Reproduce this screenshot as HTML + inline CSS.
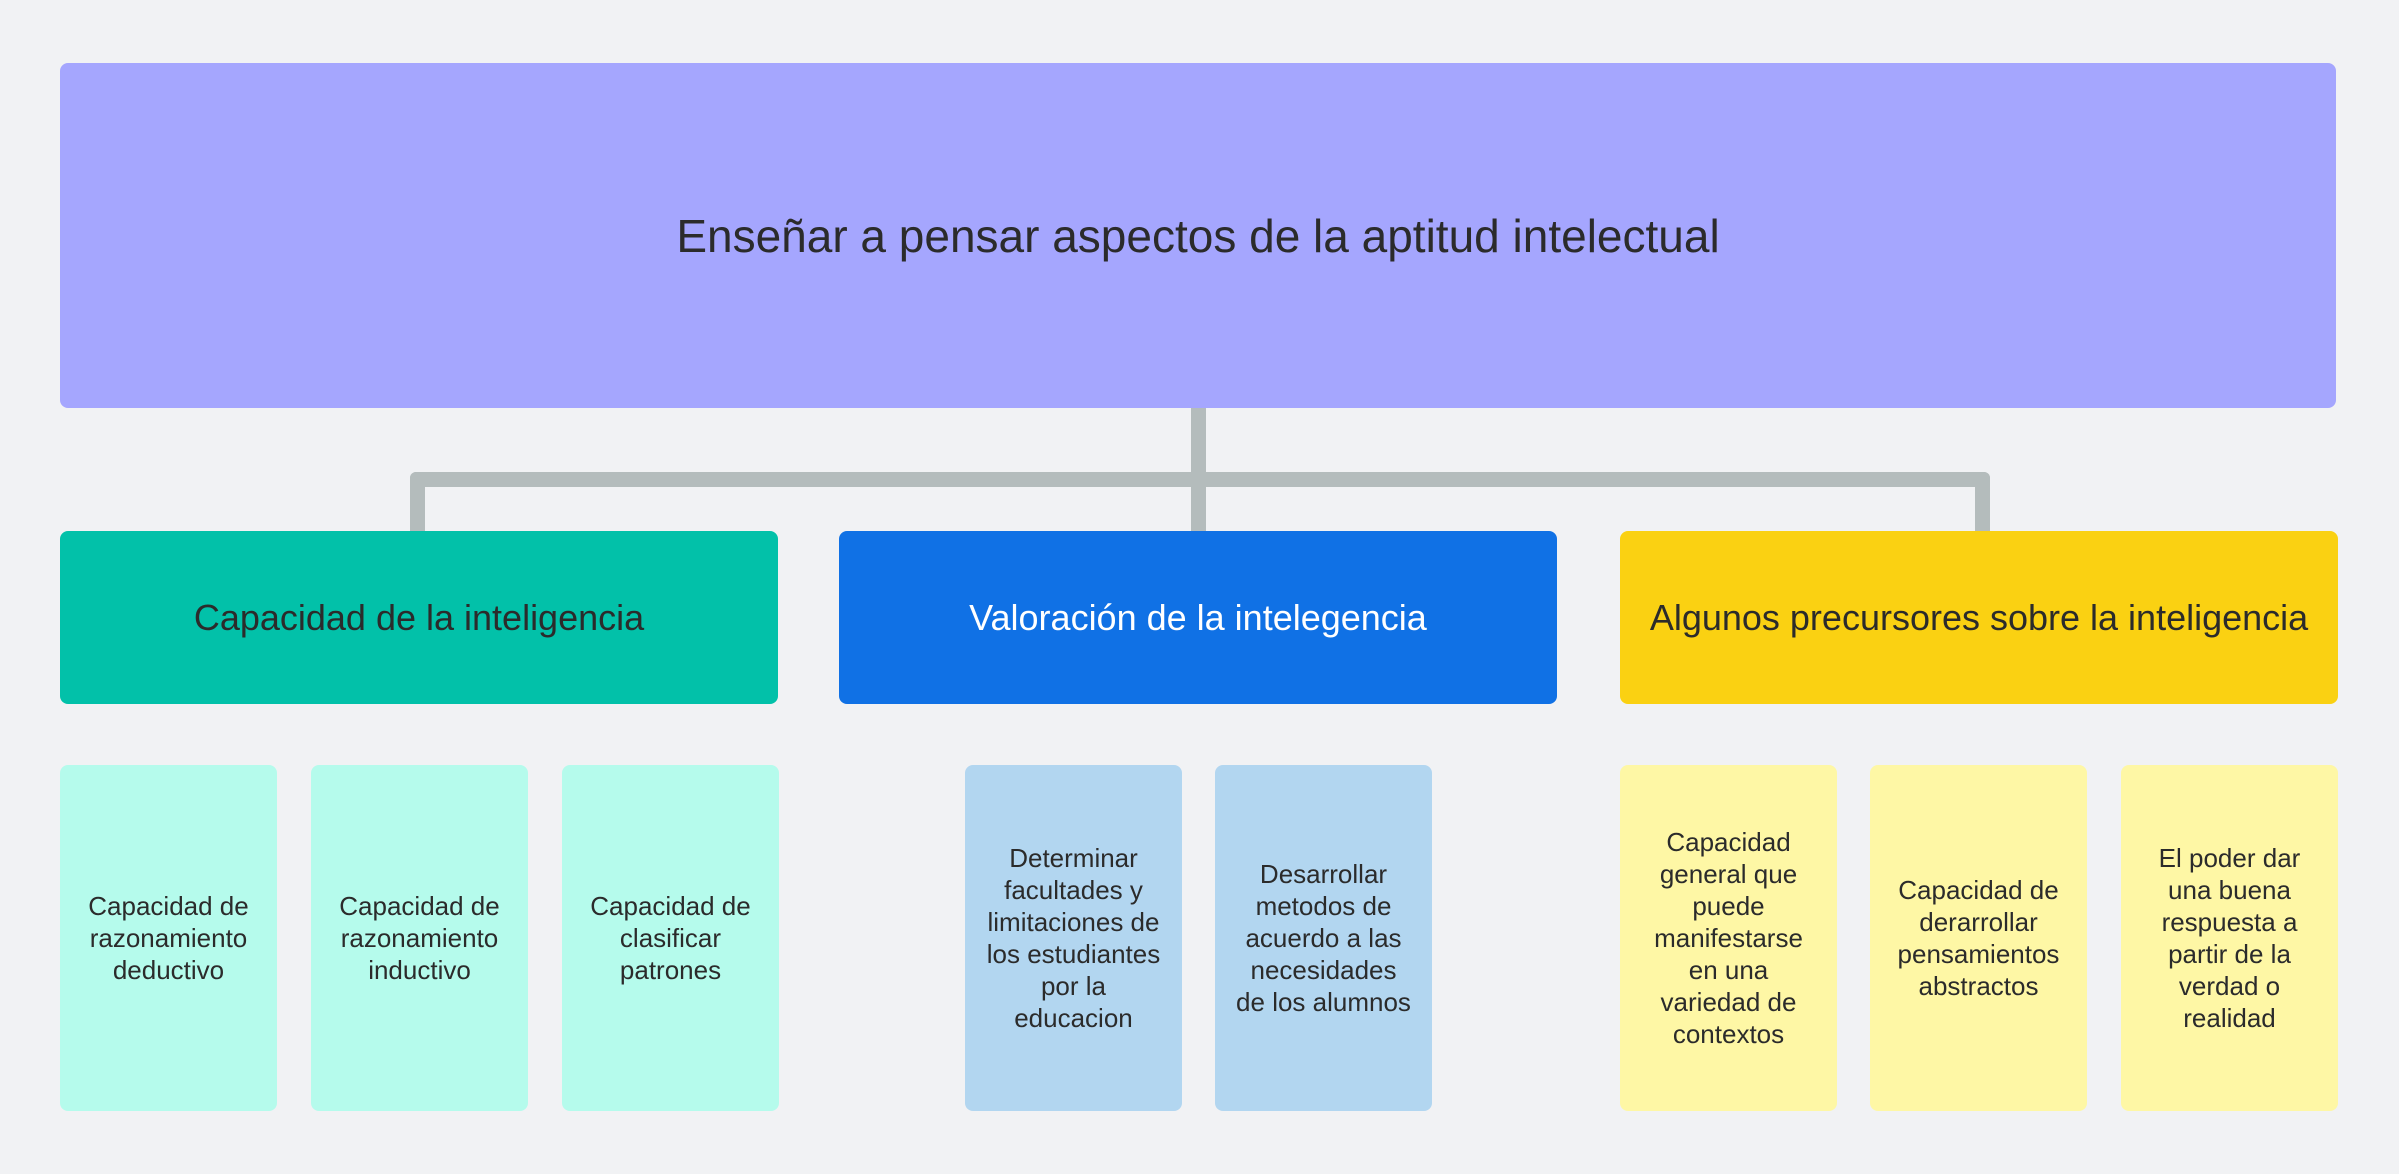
<!DOCTYPE html>
<html><head><meta charset="utf-8"><style>
html,body{margin:0;padding:0;}
body{width:2399px;height:1174px;background:#f1f2f4;position:relative;overflow:hidden;font-family:"Liberation Sans","DejaVu Sans",sans-serif;color:#2b2b2b;}
.b{position:absolute;display:flex;align-items:center;justify-content:center;text-align:center;border-radius:8px;box-sizing:border-box;}
.top{left:60px;top:63px;width:2276px;height:345px;background:#a5a6fe;font-size:46px;}
.mid{top:531px;width:718px;height:173px;font-size:36px;}
.sm{top:765px;width:217px;height:346px;font-size:26px;line-height:32px;padding:0 18px;}
.c{position:absolute;background:#b4bcbc;}
</style></head><body>
<div class="b top">Enseñar a pensar aspectos de la aptitud intelectual</div>
<div class="c" style="left:1191px;top:408px;width:15px;height:123px"></div>
<div class="c" style="left:410px;top:472px;width:1580px;height:15px;border-radius:6px"></div>
<div class="c" style="left:410px;top:472px;width:15px;height:59px;border-radius:6px 0 0 0"></div>
<div class="c" style="left:1975px;top:472px;width:15px;height:59px;border-radius:0 6px 0 0"></div>
<div class="b mid" style="left:60px;background:#02c1a9">Capacidad de la inteligencia</div>
<div class="b mid" style="left:839px;background:#1071e5;color:#fff">Valoración de la intelegencia</div>
<div class="b mid" style="left:1620px;background:#fad112">Algunos precursores sobre la inteligencia</div>
<div class="b sm" style="left:60px;background:#b5fbec">Capacidad de razonamiento deductivo</div>
<div class="b sm" style="left:311px;background:#b5fbec">Capacidad de razonamiento inductivo</div>
<div class="b sm" style="left:562px;background:#b5fbec">Capacidad de clasificar patrones</div>
<div class="b sm" style="left:965px;background:#b2d6f0">Determinar facultades y limitaciones de los estudiantes por la educacion</div>
<div class="b sm" style="left:1215px;background:#b2d6f0">Desarrollar metodos de acuerdo a las necesidades de los alumnos</div>
<div class="b sm" style="left:1620px;background:#fef7a5">Capacidad general que puede manifestarse en una variedad de contextos</div>
<div class="b sm" style="left:1870px;background:#fef7a5">Capacidad de derarrollar pensamientos abstractos</div>
<div class="b sm" style="left:2121px;background:#fef7a5">El poder dar una buena respuesta a partir de la verdad o realidad</div>
</body></html>
